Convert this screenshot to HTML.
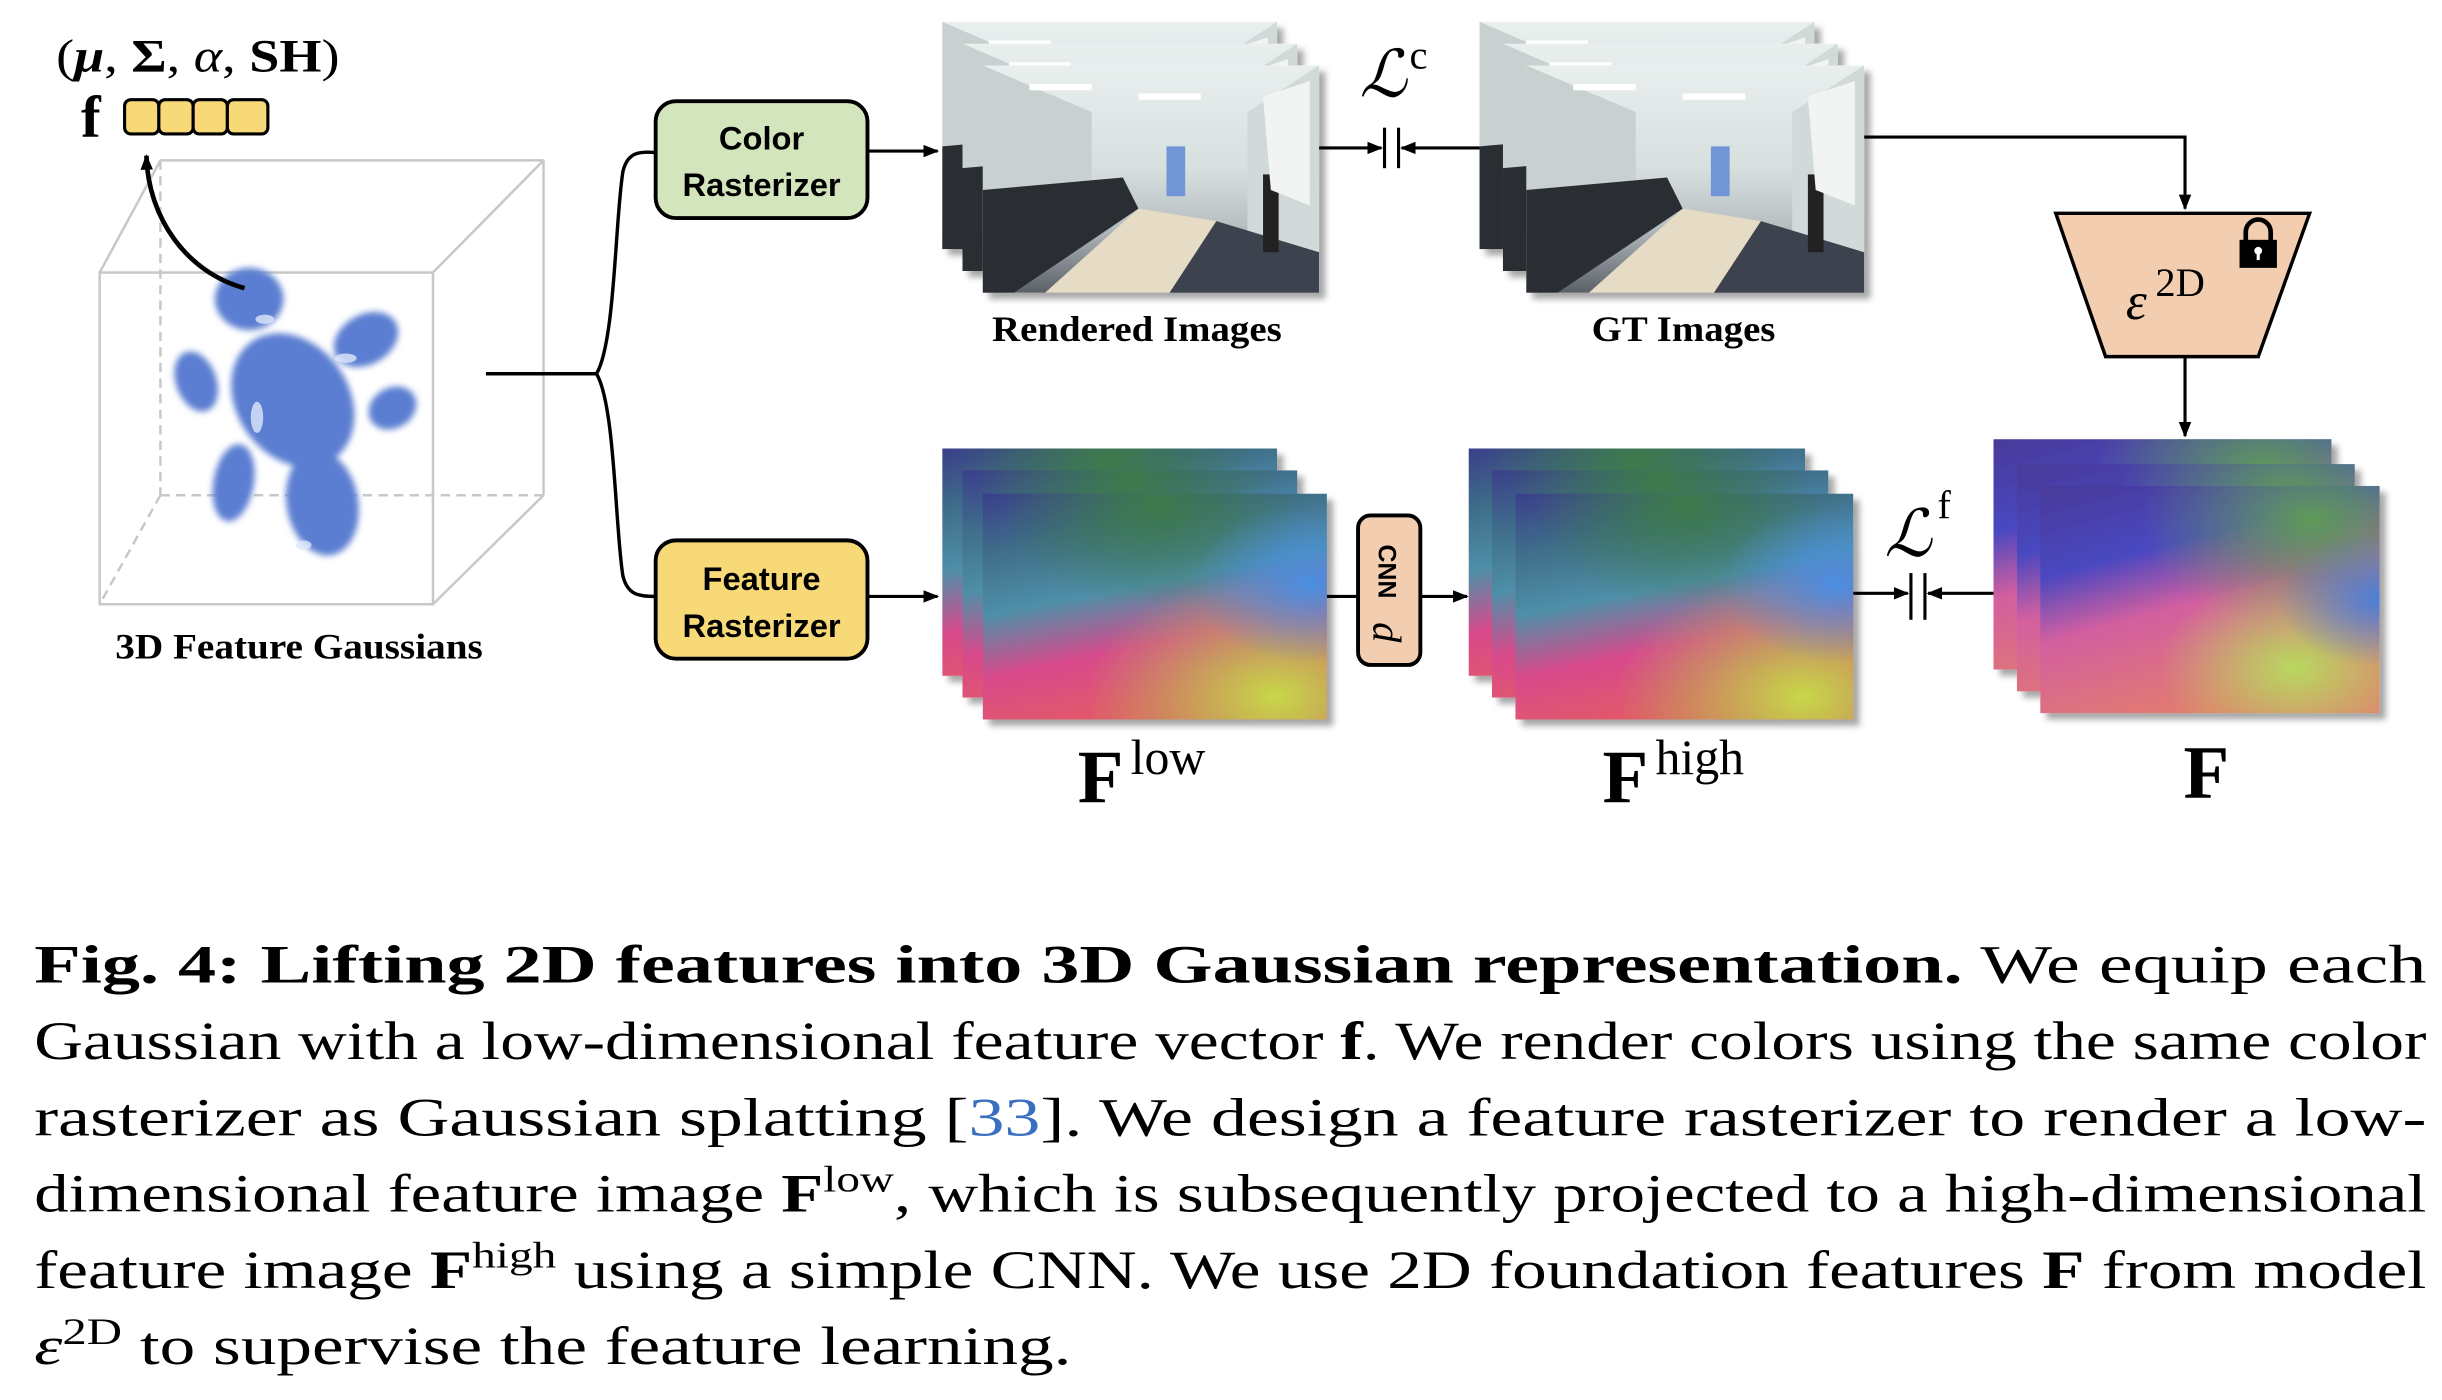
<!DOCTYPE html>
<html><head><meta charset="utf-8"><style>
html,body{margin:0;padding:0;background:#fff;}
svg{display:block;}
</style></head><body>
<svg width="2442" height="1400" viewBox="0 0 1568 899" preserveAspectRatio="none" xmlns="http://www.w3.org/2000/svg">
<defs>
<marker id="ah" markerWidth="10" markerHeight="10" refX="9" refY="5" orient="auto" markerUnits="userSpaceOnUse"><path d="M0,1 L10,5 L0,9 z" fill="#000"/></marker>
<filter id="blur" x="-30%" y="-30%" width="160%" height="160%"><feGaussianBlur stdDeviation="2"/></filter>
<filter id="sh" x="-10%" y="-10%" width="130%" height="130%"><feDropShadow dx="4" dy="4" stdDeviation="2" flood-color="#000" flood-opacity="0.35"/></filter>
<linearGradient id="room" x1="0" y1="0" x2="0" y2="1">
<stop offset="0" stop-color="#e9efee"/><stop offset="0.45" stop-color="#d7dfdf"/><stop offset="0.7" stop-color="#b9c0c2"/><stop offset="1" stop-color="#5a6068"/></linearGradient>
<symbol id="photo" viewBox="0 0 216 146" preserveAspectRatio="none">
<rect width="216" height="146" fill="url(#room)"/>
<polygon points="0,0 70,30 70,110 0,146" fill="#c9d0d0"/>
<polygon points="216,0 170,30 170,115 216,146" fill="#d2d9d9"/>
<rect x="118" y="52" width="12" height="32" fill="#6f96d6"/>
<polygon points="0,80 90,72 100,92 20,146 0,146" fill="#2a2d33"/>
<polygon points="40,146 100,92 150,100 120,146" fill="#e6dcc6"/>
<polygon points="120,146 150,100 216,120 216,146" fill="#3d4350"/>
<rect x="180" y="70" width="10" height="50" fill="#222"/>
<polygon points="180,20 210,10 210,90 185,80" fill="#f2f4f4"/>
<rect x="30" y="12" width="40" height="4" fill="#fff"/><rect x="100" y="18" width="40" height="4" fill="#fff"/>
</symbol>
<linearGradient id="fg1" x1="0" y1="0" x2="0.3" y2="1">
<stop offset="0" stop-color="#3a3f8a"/><stop offset="0.25" stop-color="#3f6e8a"/><stop offset="0.5" stop-color="#4f8fa8"/><stop offset="0.75" stop-color="#d84a8c"/><stop offset="1" stop-color="#e2586a"/></linearGradient>
<radialGradient id="fg2" cx="0.85" cy="0.9" r="0.55"><stop offset="0" stop-color="#c8d84a" stop-opacity="1"/><stop offset="1" stop-color="#a8c84a" stop-opacity="0"/></radialGradient>
<radialGradient id="fg3" cx="0.95" cy="0.4" r="0.35"><stop offset="0" stop-color="#4a8ee0" stop-opacity="1"/><stop offset="1" stop-color="#4a8ee0" stop-opacity="0"/></radialGradient>
<radialGradient id="fg4" cx="0.5" cy="0.05" r="0.45"><stop offset="0" stop-color="#3d7a4a"/><stop offset="1" stop-color="#3d7a4a" stop-opacity="0"/></radialGradient>
<symbol id="feat" viewBox="0 0 216 146" preserveAspectRatio="none">
<rect width="216" height="146" fill="url(#fg1)"/>
<rect width="216" height="146" fill="url(#fg4)"/>
<rect width="216" height="146" fill="url(#fg2)"/>
<rect width="216" height="146" fill="url(#fg3)"/>
</symbol>
<linearGradient id="Fg1" x1="0" y1="0" x2="0.4" y2="1">
<stop offset="0" stop-color="#4a3a9a"/><stop offset="0.35" stop-color="#4a48c0"/><stop offset="0.6" stop-color="#d35fa0"/><stop offset="1" stop-color="#e27a70"/></linearGradient>
<radialGradient id="Fg2" cx="0.8" cy="0.15" r="0.5"><stop offset="0" stop-color="#5f9a58"/><stop offset="1" stop-color="#5f9a58" stop-opacity="0"/></radialGradient>
<radialGradient id="Fg3" cx="0.75" cy="0.8" r="0.4"><stop offset="0" stop-color="#b8d860"/><stop offset="1" stop-color="#b8d860" stop-opacity="0"/></radialGradient>
<radialGradient id="Fg4" cx="1" cy="0.5" r="0.3"><stop offset="0" stop-color="#4a80d8"/><stop offset="1" stop-color="#4a80d8" stop-opacity="0"/></radialGradient>
<symbol id="foun" viewBox="0 0 216 146" preserveAspectRatio="none">
<rect width="216" height="146" fill="url(#Fg1)"/>
<rect width="216" height="146" fill="url(#Fg2)"/>
<rect width="216" height="146" fill="url(#Fg3)"/>
<rect width="216" height="146" fill="url(#Fg4)"/>
</symbol>
</defs>

<!-- top-left labels -->
<text x="36" y="46" font-family="Liberation Serif,serif" font-size="30" textLength="182" lengthAdjust="spacingAndGlyphs">(<tspan font-style="italic" font-weight="bold">μ</tspan>, <tspan font-weight="bold">Σ</tspan>, <tspan font-style="italic">α</tspan>, <tspan font-weight="bold">SH</tspan>)</text>
<text x="52" y="88" font-family="Liberation Serif,serif" font-size="38" font-weight="bold">f</text>
<g fill="#f7d978" stroke="#000" stroke-width="2">
<rect x="80" y="64" width="22" height="22" rx="4"/><rect x="102" y="64" width="22" height="22" rx="4"/><rect x="124" y="64" width="22" height="22" rx="4"/><rect x="146" y="64" width="26" height="22" rx="4"/></g>

<!-- cube -->
<g fill="none" stroke="#c8c8c8" stroke-width="1.6">
<rect x="64" y="175" width="214" height="213"/>
<line x1="64" y1="175" x2="103" y2="103"/><line x1="278" y1="175" x2="349" y2="103"/><line x1="278" y1="388" x2="349" y2="318"/>
<line x1="103" y1="103" x2="349" y2="103"/><line x1="349" y1="103" x2="349" y2="318"/>
<g stroke-dasharray="6,4"><line x1="103" y1="103" x2="103" y2="318"/><line x1="103" y1="318" x2="349" y2="318"/><line x1="103" y1="318" x2="64" y2="388"/></g>
</g>
<!-- blobs -->
<g fill="#5b7ed2" filter="url(#blur)">
<ellipse cx="160" cy="192" rx="22" ry="20"/>
<ellipse cx="235" cy="218" rx="22" ry="16" transform="rotate(-30 235 218)"/>
<ellipse cx="126" cy="245" rx="13" ry="20" transform="rotate(-20 126 245)"/>
<ellipse cx="188" cy="257" rx="36" ry="46" transform="rotate(-35 188 257)"/>
<ellipse cx="252" cy="262" rx="16" ry="13" transform="rotate(-30 252 262)"/>
<ellipse cx="150" cy="310" rx="13" ry="25" transform="rotate(10 150 310)"/>
<ellipse cx="207" cy="323" rx="23" ry="34" transform="rotate(-10 207 323)"/>
</g>
<g fill="#dfe8fb" opacity="0.8"><ellipse cx="170" cy="205" rx="6" ry="3"/><ellipse cx="222" cy="230" rx="7" ry="3"/><ellipse cx="165" cy="268" rx="4" ry="10"/><ellipse cx="195" cy="350" rx="5" ry="3"/></g>
<path d="M157,185 C120,175 95,140 94,100" fill="none" stroke="#000" stroke-width="3" marker-end="url(#ah)"/>
<text x="74" y="423" font-family="Liberation Serif,serif" font-size="23" font-weight="bold" textLength="236" lengthAdjust="spacingAndGlyphs">3D Feature Gaussians</text>

<!-- bracket -->
<g fill="none" stroke="#000" stroke-width="2.2">
<path d="M312,240 L383,240 C395,220 395,140 400,110 C403,98 410,97 421,98"/>
<path d="M383,240 C395,260 395,340 400,370 C403,382 410,383 421,383"/>
</g>
<rect x="421" y="65" width="136" height="75" rx="13" fill="#d3e5bd" stroke="#000" stroke-width="2.5"/>
<text x="489" y="96" text-anchor="middle" font-family="Liberation Sans,sans-serif" font-size="21" font-weight="bold">Color</text>
<text x="489" y="126" text-anchor="middle" font-family="Liberation Sans,sans-serif" font-size="21" font-weight="bold">Rasterizer</text>
<rect x="421" y="347" width="136" height="76" rx="13" fill="#f7d978" stroke="#000" stroke-width="2.5"/>
<text x="489" y="379" text-anchor="middle" font-family="Liberation Sans,sans-serif" font-size="21" font-weight="bold">Feature</text>
<text x="489" y="409" text-anchor="middle" font-family="Liberation Sans,sans-serif" font-size="21" font-weight="bold">Rasterizer</text>
<g stroke="#000" stroke-width="2" marker-end="url(#ah)"><line x1="557" y1="97" x2="602" y2="97"/><line x1="557" y1="383" x2="602" y2="383"/></g>

<!-- rendered images -->
<g filter="url(#sh)">
<use href="#photo" x="605" y="14" width="215" height="146"/>
<use href="#photo" x="618" y="28" width="215" height="146"/>
<use href="#photo" x="631" y="42" width="216" height="146"/>
<use href="#photo" x="950" y="14" width="215" height="146"/>
<use href="#photo" x="965" y="28" width="215" height="146"/>
<use href="#photo" x="980" y="42" width="217" height="146"/>
</g>
<text x="637" y="219" font-family="Liberation Serif,serif" font-size="23" font-weight="bold" textLength="186" lengthAdjust="spacingAndGlyphs">Rendered Images</text>
<text x="1022" y="219" font-family="Liberation Serif,serif" font-size="23" font-weight="bold" textLength="118" lengthAdjust="spacingAndGlyphs">GT Images</text>

<!-- Lc -->
<text x="873" y="62" font-family="Liberation Serif,serif" font-size="42" font-style="italic">ℒ</text>
<text x="905" y="44" font-family="Liberation Serif,serif" font-size="26">c</text>
<g stroke="#000" stroke-width="2"><line x1="889" y1="82" x2="889" y2="108"/><line x1="898" y1="82" x2="898" y2="108"/></g>
<g stroke="#000" stroke-width="2" marker-end="url(#ah)"><line x1="847" y1="95" x2="887" y2="95"/><line x1="950" y1="95" x2="900" y2="95"/></g>

<!-- to encoder -->
<polyline points="1197,88 1403,88 1403,134" fill="none" stroke="#000" stroke-width="2" marker-end="url(#ah)"/>
<polygon points="1320,137 1483,137 1450,229 1352,229" fill="#f2cdb0" stroke="#000" stroke-width="2.2"/>
<text x="1365" y="205" font-family="Liberation Serif,serif" font-size="34" font-style="italic">ε</text>
<text x="1384" y="190" font-family="Liberation Serif,serif" font-size="26">2D</text>
<path d="M1442,155 L1442,149 A8,8 0 0 1 1458,149 L1458,155" fill="none" stroke="#000" stroke-width="3"/>
<rect x="1438" y="154" width="24" height="18" fill="#000"/>
<circle cx="1450" cy="161" r="2.5" fill="#fff"/><rect x="1449" y="161" width="2" height="6" fill="#fff"/>
<line x1="1403" y1="229" x2="1403" y2="280" stroke="#000" stroke-width="2" marker-end="url(#ah)"/>

<!-- feature images -->
<g filter="url(#sh)">
<use href="#feat" x="605" y="288" width="215" height="146"/>
<use href="#feat" x="618" y="302" width="215" height="146"/>
<use href="#feat" x="631" y="317" width="221" height="145"/>
<use href="#feat" x="943" y="288" width="216" height="146"/>
<use href="#feat" x="958" y="302" width="216" height="146"/>
<use href="#feat" x="973" y="317" width="217" height="145"/>
<use href="#foun" x="1280" y="282" width="217" height="148"/>
<use href="#foun" x="1295" y="298" width="217" height="146"/>
<use href="#foun" x="1310" y="312" width="218" height="146"/>
</g>

<!-- CNN -->
<line x1="852" y1="383" x2="872" y2="383" stroke="#000" stroke-width="2"/>
<rect x="872" y="331" width="40" height="96" rx="8" fill="#f2cdb0" stroke="#000" stroke-width="2.5"/>
<text transform="translate(885,367) rotate(90)" text-anchor="middle" font-family="Liberation Sans,sans-serif" font-size="16" font-weight="bold">CNN</text>
<text transform="translate(882,406) rotate(90)" text-anchor="middle" font-family="Liberation Serif,serif" font-size="26" font-style="italic">d</text>
<line x1="912" y1="383" x2="942" y2="383" stroke="#000" stroke-width="2" marker-end="url(#ah)"/>

<!-- Lf -->
<text x="1210" y="357" font-family="Liberation Serif,serif" font-size="42" font-style="italic">ℒ</text>
<text x="1244" y="333" font-family="Liberation Serif,serif" font-size="26">f</text>
<g stroke="#000" stroke-width="2"><line x1="1227" y1="368" x2="1227" y2="398"/><line x1="1236" y1="368" x2="1236" y2="398"/></g>
<g stroke="#000" stroke-width="2" marker-end="url(#ah)"><line x1="1190" y1="381" x2="1225" y2="381"/><line x1="1280" y1="381" x2="1238" y2="381"/></g>

<!-- captions F -->
<text x="692" y="515" font-family="Liberation Serif,serif" font-size="48" font-weight="bold">F</text>
<text x="726" y="497" font-family="Liberation Serif,serif" font-size="32">low</text>
<text x="1029" y="515" font-family="Liberation Serif,serif" font-size="48" font-weight="bold">F</text>
<text x="1063" y="497" font-family="Liberation Serif,serif" font-size="32">high</text>
<text x="1402" y="512" font-family="Liberation Serif,serif" font-size="48" font-weight="bold">F</text>

<!-- caption paragraph -->
<g font-family="Liberation Serif,serif" font-size="35" fill="#000">
<text x="22" y="631" textLength="1536" lengthAdjust="spacingAndGlyphs"><tspan font-weight="bold">Fig. 4: Lifting 2D features into 3D Gaussian representation.</tspan> We equip each</text>
<text x="22" y="680" textLength="1536" lengthAdjust="spacingAndGlyphs">Gaussian with a low-dimensional feature vector <tspan font-weight="bold">f</tspan>. We render colors using the same color</text>
<text x="22" y="729" textLength="1536" lengthAdjust="spacingAndGlyphs">rasterizer as Gaussian splatting [<tspan fill="#3a6fc0">33</tspan>]. We design a feature rasterizer to render a low-</text>
<text x="22" y="778" textLength="1536" lengthAdjust="spacingAndGlyphs">dimensional feature image <tspan font-weight="bold">F</tspan><tspan font-size="24" dy="-13">low</tspan><tspan dy="13">, which is subsequently projected to a high-dimensional</tspan></text>
<text x="22" y="827" textLength="1536" lengthAdjust="spacingAndGlyphs">feature image <tspan font-weight="bold">F</tspan><tspan font-size="24" dy="-13">high</tspan><tspan dy="13"> using a simple CNN. We use 2D foundation features </tspan><tspan font-weight="bold">F</tspan> from model</text>
<text x="22" y="876" textLength="666" lengthAdjust="spacingAndGlyphs"><tspan font-style="italic">ε</tspan><tspan font-size="24" dy="-13">2D</tspan><tspan dy="13"> to supervise the feature learning.</tspan></text>
</g>
</svg>
</body></html>
